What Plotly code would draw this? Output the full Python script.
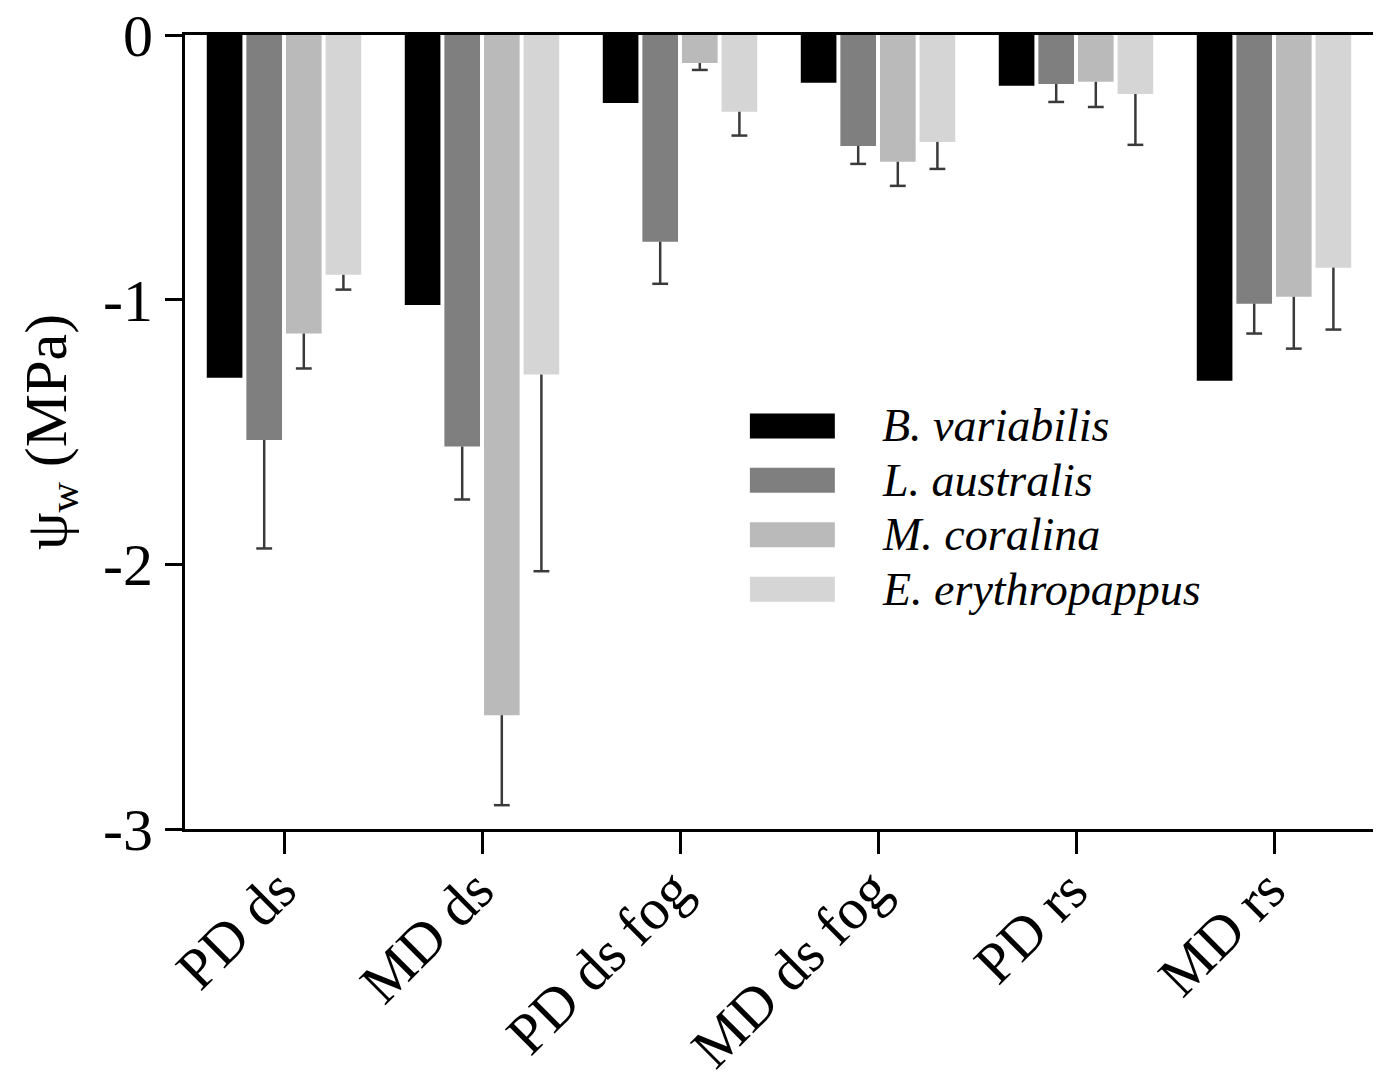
import plotly.graph_objects as go

categories = ["PD ds", "MD ds", "PD ds fog", "MD ds fog", "PD rs", "MD rs"]
species = ["B. variabilis", "L. australis", "M. coralina", "E. erythropappus"]
colors = ["#000000", "#7f7f7f", "#bababa", "#d5d5d5"]

b_variabilis = [-1.295, -1.02, -0.257, -0.18, -0.192, -1.306]
l_australis = [-1.53, -1.555, -0.781, -0.419, -0.185, -1.015]
m_coralina = [-1.128, -2.57, -0.106, -0.479, -0.177, -0.989]
e_erythropappus = [-0.906, -1.283, -0.29, -0.404, -0.223, -0.879]

b_variabilis_err = [0, 0, 0, 0, 0, 0]
l_australis_err = [0.41, 0.20, 0.159, 0.068, 0.068, 0.113]
m_coralina_err = [0.132, 0.34, 0.026, 0.091, 0.095, 0.196]
e_erythropappus_err = [0.056, 0.743, 0.09, 0.102, 0.192, 0.234]

y_ticks = [0, -1, -2, -3]

series = [b_variabilis, l_australis, m_coralina, e_erythropappus]
errors = [b_variabilis_err, l_australis_err, m_coralina_err, e_erythropappus_err]

FONT = "Liberation Serif"
bargap = 0.2
bargroupgap = 0.1
n = len(series)
slot = (1 - bargap) / n
cap = 0.04

xs = list(range(len(categories)))
fig = go.Figure()
for j, (name, vals, col) in enumerate(zip(species, series, colors)):
    fig.add_trace(go.Bar(x=xs, y=vals, name=name, marker=dict(color=col, line=dict(width=0)),
                         showlegend=False))

# one-sided (downward) error bars drawn from bar end
ex, ey = [], []
for j, (vals, errs) in enumerate(zip(series, errors)):
    for i, (v, e) in enumerate(zip(vals, errs)):
        if not e:
            continue
        xc = i + (j - (n - 1) / 2) * slot
        ex += [xc, xc, None, xc - cap, xc + cap, None]
        ey += [v, v - e, None, v - e, v - e, None]
fig.add_trace(go.Scatter(x=ex, y=ey, mode="lines", line=dict(color="#3a3a3a", width=2.5),
                         showlegend=False, hoverinfo="skip"))

# manual legend with wide swatches
sw_x0, sw_x1 = 0.4755, 0.547
row_y0 = 0.5076
row_dy = 0.0685
sw_h = 0.0315
for k, (name, col) in enumerate(zip(species, colors)):
    yc = row_y0 - k * row_dy
    fig.add_shape(type="rect", xref="paper", yref="paper", x0=sw_x0, x1=sw_x1,
                  y0=yc - sw_h / 2, y1=yc + sw_h / 2, fillcolor=col, line=dict(width=0))
    fig.add_annotation(xref="paper", yref="paper", x=0.585, y=yc, text="<i>" + name + "</i>",
                       showarrow=False, xanchor="left", yanchor="middle",
                       font=dict(family=FONT, size=46, color="black"))

# rotated category labels
for i, cat in enumerate(categories):
    fig.add_annotation(xref="x", yref="paper", x=i, y=0, text=cat, textangle=-45,
                       showarrow=False, xanchor="right", yanchor="top", xshift=27, yshift=-25,
                       font=dict(family=FONT, size=58, color="black"))

fig.update_layout(
    width=1365, height=1064,
    margin=dict(l=177, r=0, t=27, b=243),
    paper_bgcolor="white", plot_bgcolor="white",
    barmode="group", bargap=bargap, bargroupgap=bargroupgap,
    font=dict(family=FONT, color="black"),
    xaxis=dict(range=[-0.5, len(categories) - 0.5], tickvals=xs, ticktext=["" for _ in categories],
               showline=True, linecolor="black", linewidth=3, mirror=True,
               ticks="outside", ticklen=22, tickwidth=3, tickcolor="black",
               showgrid=False, zeroline=False, automargin=False),
    yaxis=dict(range=[-3, 0], tickvals=y_ticks, ticktext=[str(t) for t in y_ticks],
               tickfont=dict(family=FONT, size=60, color="black"), ticklabeloverflow="allow",
               showline=True, linecolor="black", linewidth=3,
               ticks="outside", ticklen=17, tickwidth=3, tickcolor="black",
               showgrid=False, zeroline=False, automargin=False,
               title=dict(text="ψ<sub>w</sub> (MPa)", font=dict(family=FONT, size=60, color="black"),
                          standoff=18)),
)

fig.write_html("out.html")
